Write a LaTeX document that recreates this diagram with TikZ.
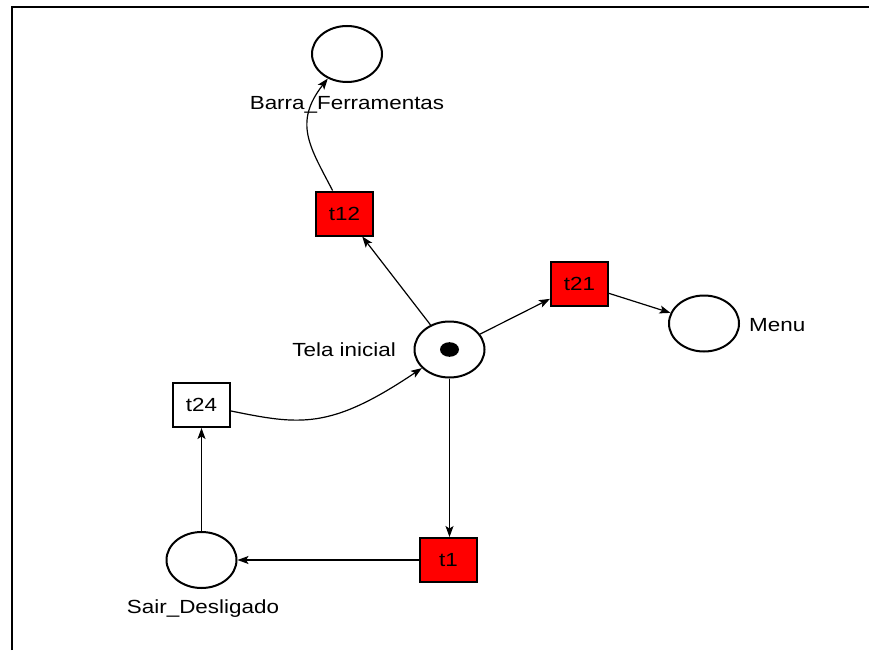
\documentclass[tikz,border=0pt]{standalone}
\usepackage{fontspec}
\setmainfont{Liberation Sans}
\newfontfamily\lblfont{Liberation Sans}[FakeStretch=1.18]
\usetikzlibrary{shapes.geometric,arrows.meta}

\tikzset{
  place/.style={ellipse, draw, line width=2pt, fill=white,
    minimum width=70pt, minimum height=56pt, inner sep=0pt},
  trans/.style={rectangle, draw, line width=2pt, fill=red,
    minimum width=57pt, minimum height=44pt, inner sep=0pt,
    font=\lblfont\fontsize{19}{21}\selectfont},
  transoff/.style={trans, fill=white},
  lbl/.style={inner sep=0pt, font=\lblfont\fontsize{19}{21}\selectfont},
  arc/.style={line width=1.2pt, -{Stealth[length=11pt,width=8pt,inset=2.5pt]}},
}

\begin{document}
\begin{tikzpicture}[x=1pt, y=-1pt]
  \useasboundingbox (0,0) rectangle (869,650);
  % window frame (top and left edges)
  \draw[line width=2.4pt] (12,650) -- (12,7) -- (869,7);

  % places
  \node[place] (barra) at (347,54) {};
  \node[place] (tela)  at (449.5,349.5) {};
  \node[place] (menu)  at (704,323.5) {};
  \node[place] (sair)  at (201.5,560) {};

  % token in the initial marking
  \fill (tela.center) ellipse [x radius=9.5pt, y radius=7.3pt];

  % transitions
  \node[trans]    (t12) at (344.5,213.5) {t12};
  \node[trans]    (t21) at (579.5,284)   {t21};
  \node[trans]    (t1)  at (448.5,560)   {t1};
  \node[transoff] (t24) at (201.5,405)   {t24};

  % place labels
  \node[lbl, anchor=base]      (lbarra) at (347,110) {Barra\_Ferramentas};
  \node[lbl, anchor=base east] (ltela)  at (396,356) {Tela inicial};
  \node[lbl, anchor=base west] (lmenu)  at (749,331) {Menu};
  \node[lbl, anchor=base]      (lsair)  at (203,613) {Sair\_Desligado};

  % arcs
  \draw[arc] (tela) -- (t12);
  \draw[arc] (t12) .. controls (310,147) and (293,123) .. (barra);
  \draw[arc] (tela) -- (t21);
  \draw[arc] (t21) -- (menu);
  \draw[arc] (tela.south) -- (tela.south |- t1.north);
  \draw[arc] (t1) -- (sair);
  \draw[arc] (sair) -- (t24);
  \draw[arc] (t24) .. controls (300,425) and (330,430) .. (tela);
\end{tikzpicture}
\end{document}
